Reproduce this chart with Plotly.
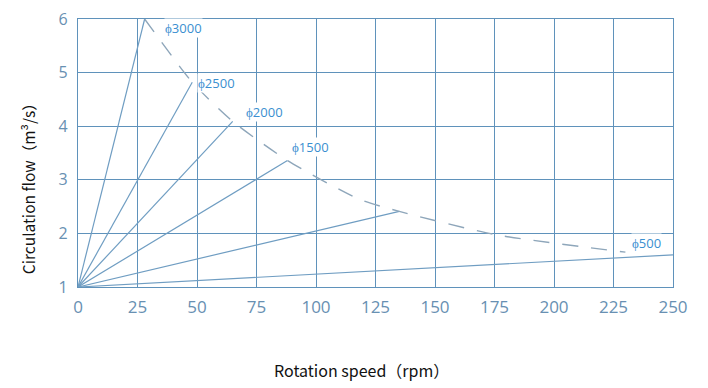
import plotly.graph_objects as go

# ---- data ----
models = ["ϕ3000", "ϕ2500", "ϕ2000", "ϕ1500", "ϕ1000", "ϕ500"]
origin_speed = 0
origin_flow = 1.0
end_speed = [28, 48, 65, 88, 135, 250]
end_flow = [6.0, 4.82, 4.09, 3.36, 2.41, 1.60]

envelope_speed = [28, 48, 65, 88, 118, 135, 175, 230]
envelope_flow = [6.0, 4.82, 4.09, 3.36, 2.64, 2.41, 1.98, 1.65]

x_ticks = [0, 25, 50, 75, 100, 125, 150, 175, 200, 225, 250]
y_ticks = [1, 2, 3, 4, 5, 6]

labelled = ["ϕ3000", "ϕ2500", "ϕ2000", "ϕ1500", "ϕ500"]
x_title = "Rotation speed（rpm）"
y_title = "Circulation flow（m³/s）"

# ---- styling ----
grid_color = "#5f92bb"
ray_color = "#6f9dc2"
dash_color = "#8ea6ba"
label_color = "#3a8fd0"
tick_color = "#6890b2"

fig = go.Figure()

for name, xs, ys in zip(models, end_speed, end_flow):
    fig.add_trace(go.Scatter(
        x=[origin_speed, xs], y=[origin_flow, ys], mode="lines",
        line=dict(color=ray_color, width=1.2), name=name, showlegend=False,
        hoverinfo="name"))

fig.add_trace(go.Scatter(
    x=envelope_speed, y=envelope_flow, mode="lines",
    line=dict(color=dash_color, width=1.4, dash="16px,13px", shape="spline", smoothing=0.6),
    showlegend=False, hoverinfo="skip"))

# label anchors (layout positions, in data units)
label_pos = {
    "ϕ3000": (36.0, 5.84),
    "ϕ2500": (50.0, 4.8),
    "ϕ2000": (70.3, 4.27),
    "ϕ1500": (89.3, 3.62),
    "ϕ500": (232.5, 1.82),
}
for name in labelled:
    lx, ly = label_pos[name]
    fig.add_annotation(x=lx, y=ly, text=name, showarrow=False, xanchor="left",
                       yanchor="middle", bgcolor="white", borderpad=0,
                       font=dict(family="Open Sans", size=13, color=label_color))

# axis titles as paper-positioned annotations
fig.add_annotation(x=0.476, y=-0.31, xref="paper", yref="paper", text=x_title,
                   showarrow=False, xanchor="center", yanchor="middle",
                   font=dict(family="Noto Sans CJK SC", size=16, color="#111111"))
fig.add_annotation(x=-0.084, y=0.38, xref="paper", yref="paper", text=y_title,
                   textangle=-90, showarrow=False, xanchor="center", yanchor="middle",
                   font=dict(family="Noto Sans CJK SC", size=15.5, color="#111111"))

fig.update_xaxes(
    range=[0, 250], tickvals=x_ticks, showgrid=True, gridcolor=grid_color, gridwidth=1.2,
    showline=True, linecolor=grid_color, linewidth=1.2, mirror=True, zeroline=False,
    automargin=False, ticklabeloverflow="allow",
    ticks="", ticklabelstandoff=4, tickfont=dict(family="Open Sans", size=17, color=tick_color))
fig.update_yaxes(
    range=[1, 6], tickvals=y_ticks, showgrid=True, gridcolor=grid_color, gridwidth=1.2,
    showline=True, linecolor=grid_color, linewidth=1.2, mirror=True, zeroline=False,
    automargin=False, ticklabeloverflow="allow",
    ticks="", ticklabelstandoff=6, tickfont=dict(family="Open Sans", size=16, color=tick_color))

fig.update_layout(
    width=700, height=380, margin=dict(l=70, r=35, t=11, b=101),
    plot_bgcolor="white", paper_bgcolor="white", showlegend=False)

fig.write_html("out.html")
